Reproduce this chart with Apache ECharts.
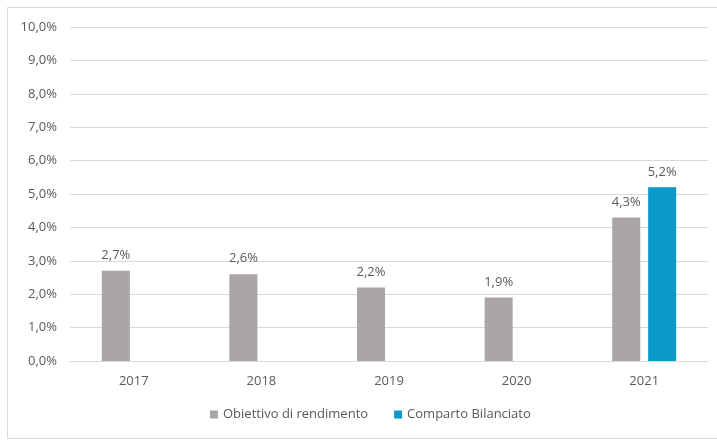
<!DOCTYPE html>
<html>
<head>
<meta charset="utf-8">
<script src="https://cdn.jsdelivr.net/npm/echarts@6/dist/echarts.min.js"></script>
<style>html,body{margin:0;padding:0;background:#fff;}#c{width:717px;height:440px;}</style>
</head>
<body>
<div id="c"></div>
<script>
const categories = ['2017', '2018', '2019', '2020', '2021'];
const obiettivo = [2.7, 2.6, 2.2, 1.9, 4.3];
const comparto = [null, null, null, null, 5.2];
const yTicks = [0, 1, 2, 3, 4, 5, 6, 7, 8, 9, 10];

const fmt = v => v.toFixed(1).replace('.', ',') + '%';
const font = '"Open Sans", "Noto Sans", sans-serif';

const chart = echarts.init(document.getElementById('c'), null, {renderer: 'canvas'});
chart.setOption({
  animation: false,
  backgroundColor: '#fff',
  graphic: [{
    type: 'rect', silent: true,
    shape: {x: 7.5, y: 7.5, width: 720, height: 431},
    style: {fill: 'none', stroke: '#d9d9d9', lineWidth: 1}
  }],
  grid: {left: 70, right: 9, top: 27, bottom: 79},
  legend: {
    bottom: 14, left: 205,
    itemWidth: 8, itemHeight: 8, itemGap: 26,
    icon: 'rect',
    textStyle: {color: '#595959', fontSize: 13, fontFamily: font},
    data: ['Obiettivo di rendimento', 'Comparto Bilanciato']
  },
  xAxis: {
    type: 'category', data: categories,
    axisLine: {lineStyle: {color: '#d9d9d9'}},
    axisTick: {show: false},
    axisLabel: {color: '#595959', fontSize: 13, fontFamily: font, margin: 14}
  },
  yAxis: {
    type: 'value', min: yTicks[0], max: yTicks[yTicks.length - 1], interval: 1,
    axisLine: {show: false}, axisTick: {show: false},
    splitLine: {lineStyle: {color: '#d9d9d9'}},
    axisLabel: {color: '#595959', fontSize: 13, fontFamily: font, margin: 13, formatter: v => fmt(v)}
  },
  series: [{
    name: 'Obiettivo di rendimento', type: 'bar', data: obiettivo,
    barWidth: '22%', barGap: '28%',
    itemStyle: {color: '#aaa6a5'},
    label: {show: true, position: 'top', distance: 9, color: '#595959', fontSize: 13, fontFamily: font, formatter: p => fmt(p.value)}
  }, {
    name: 'Comparto Bilanciato', type: 'bar', data: comparto,
    barWidth: '22%',
    itemStyle: {color: '#0b99c9'},
    label: {show: true, position: 'top', distance: 9, color: '#595959', fontSize: 13, fontFamily: font, formatter: p => p.value == null ? '' : fmt(p.value)}
  }]
});
</script>
</body>
</html>
